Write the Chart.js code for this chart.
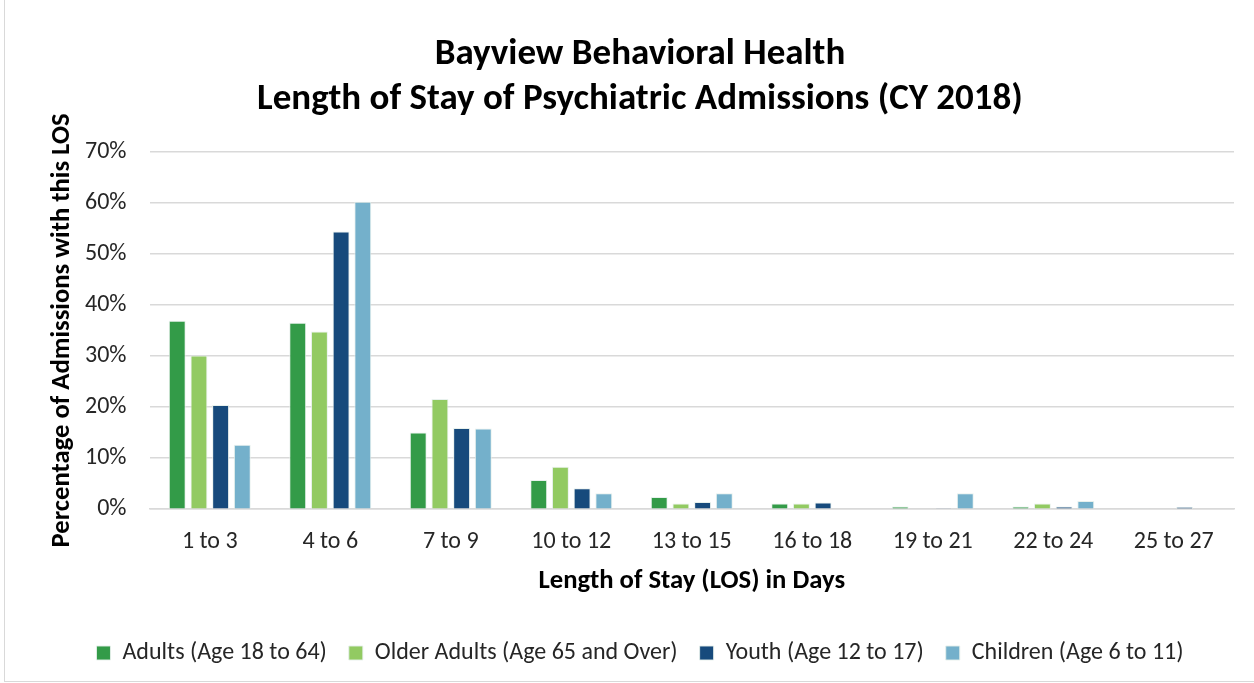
<!DOCTYPE html>
<html>
<head>
<meta charset="utf-8">
<script src="https://cdn.jsdelivr.net/npm/chart.js@4"></script>
<style>
html,body{margin:0;padding:0;background:#fff;}
#wrap{position:absolute;left:4px;top:0;width:1250px;height:682px;border-left:1px solid #d9d9d9;border-bottom:1px solid #d9d9d9;box-sizing:border-box;}
canvas{display:block;}
</style>
</head>
<body>
<div id="wrap"><canvas id="c" width="1249" height="681"></canvas></div>
<script>
const categories = ["1 to 3","4 to 6","7 to 9","10 to 12","13 to 15","16 to 18","19 to 21","22 to 24","25 to 27"];
const adults = [36.9, 36.5, 15.0, 5.7, 2.4, 1.1, 0.5, 0.5, 0.1];
const olderAdults = [30.1, 34.8, 21.6, 8.3, 1.1, 1.1, 0.0, 1.1, 0.0];
const youth = [20.4, 54.4, 15.9, 4.1, 1.4, 1.3, 0.2, 0.5, 0.4];
const children = [12.6, 60.2, 15.8, 3.1, 3.1, 0.0, 3.1, 1.6, 0.0];
const seriesNames = ["Adults (Age 18 to 64)","Older Adults (Age 65 and Over)","Youth (Age 12 to 17)","Children (Age 6 to 11)"];
const colors = ["#339b48","#92ca62","#174a7c","#74b0cb"];
const FONT = "Carlito, Lato, 'Open Sans', sans-serif";
const data = [adults, olderAdults, youth, children];

new Chart(document.getElementById('c'), {
  type: 'bar',
  data: {
    labels: categories,
    datasets: data.map((d,i)=>({
      label: seriesNames[i],
      data: d,
      backgroundColor: colors[i],
      borderColor: 'rgba(230,240,235,0.9)',
      borderWidth: 1,
      barPercentage: 0.78,
      categoryPercentage: 0.72
    }))
  },
  options: {
    responsive: false,
    animation: false,
    layout: { padding: { left: 41, right: 20, top: 6, bottom: 6 } },
    plugins: {
      title: {
        display: true,
        text: ["Bayview Behavioral Health","Length of Stay of Psychiatric Admissions (CY 2018)"],
        font: { family: FONT, size: 37, weight: 'bold' },
        color: '#000',
        padding: { top: 27, bottom: 30 },
        lineHeight: 1.3
      },
      legend: {
        position: 'bottom',
        labels: {
          font: { family: FONT, size: 24 },
          color: '#262626',
          boxWidth: 14, boxHeight: 14,
          padding: 22
        }
      },
      tooltip: { enabled: false }
    },
    scales: {
      x: {
        grid: { display: false },
        border: { color: '#d9d9d9', width: 1.5 },
        ticks: { font: { family: FONT, size: 24 }, color: '#262626', padding: 10 },
        title: { display: true, text: 'Length of Stay (LOS) in Days', font: { family: FONT, size: 26.7, weight: 'bold' }, color: '#000', padding: { top: -1, bottom: 22 } }
      },
      y: {
        min: 0, max: 70,
        ticks: { stepSize: 10, callback: v => v + '%', font: { family: FONT, size: 24 }, color: '#262626', padding: 23 },
        grid: { color: '#d9d9d9', lineWidth: 1.5, drawTicks: false },
        border: { display: false },
        title: { display: true, text: 'Percentage of Admissions with this LOS', font: { family: FONT, size: 26.7, weight: 'bold' }, color: '#000', padding: { top: 0, bottom: -16 } }
      }
    }
  }
});
</script>
</body>
</html>
